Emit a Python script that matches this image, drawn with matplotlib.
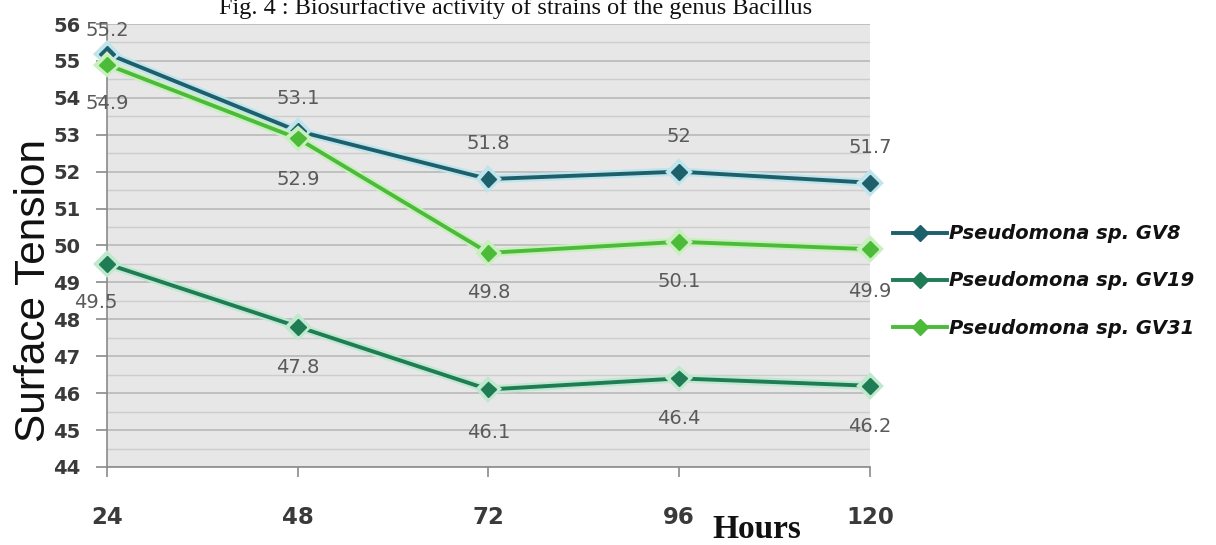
import matplotlib
matplotlib.use("Agg")
import matplotlib.pyplot as plt
import matplotlib.patheffects as pe
from matplotlib.ticker import MultipleLocator

# Sampling times (hours) and surface tension readings per strain
hours = [24, 48, 72, 96, 120]
hour_labels = ["24", "48", "72", "96", "120"]
gv8 = [55.2, 53.1, 51.8, 52.0, 51.7]
gv19 = [49.5, 47.8, 46.1, 46.4, 46.2]
gv31 = [54.9, 52.9, 49.8, 50.1, 49.9]
series_names = ["Pseudomona sp. GV8", "Pseudomona sp. GV19", "Pseudomona sp. GV31"]
y_ticks = list(range(44, 57))

W, H = 1216, 545
fig = plt.figure(figsize=(W / 100, H / 100), dpi=100)
ax_w_px, ax_h_px = 870 - 107, 467 - 24
ax = fig.add_axes([107 / W, 1 - 467 / H, ax_w_px / W, ax_h_px / H])

ax.set_facecolor("#e7e7e7")
ax.set_xlim(hours[0], hours[-1])
ax.set_ylim(44, 56)

# horizontal grid at every half unit
ax.yaxis.set_major_locator(MultipleLocator(1))
ax.yaxis.set_minor_locator(MultipleLocator(0.5))
ax.grid(axis="y", which="major", color="#bcbcbc", linewidth=1.3)
ax.grid(axis="y", which="minor", color="#cdcdcd", linewidth=1.0)
ax.set_axisbelow(True)

for s in ["top", "right"]:
    ax.spines[s].set_visible(False)
for s in ["left", "bottom"]:
    ax.spines[s].set_color("#8a8a8a")
    ax.spines[s].set_linewidth(1.2)

ax.set_xticks(hours)
ax.set_xticklabels(hour_labels)
ax.set_yticks(y_ticks)
ax.set_yticklabels([str(v) for v in y_ticks])
ax.tick_params(axis="y", which="major", length=8, width=1.2, color="#8a8a8a",
               pad=11, labelsize=14, labelcolor="#3a3a3a")
ax.tick_params(axis="y", which="minor", length=0)
ax.tick_params(axis="x", length=7, width=1.2, color="#8a8a8a", pad=21,
               labelsize=16.5, labelcolor="#3a3a3a")
for lab in ax.get_xticklabels() + ax.get_yticklabels():
    lab.set_fontweight("bold")
    lab.set_family("DejaVu Sans")

c_gv8, c_gv19, c_gv31 = "#1e5f6c", "#1f7c55", "#4cbb3a"
halo = {c_gv8: "#bfe4ec", c_gv19: "#bfe8cf", c_gv31: "#c9efbf"}

# lines with diamond markers
for vals, col, name in [(gv8, c_gv8, series_names[0]),
                        (gv19, c_gv19, series_names[1]),
                        (gv31, c_gv31, series_names[2])]:
    ax.plot(hours, vals, color=col, linewidth=2.8, marker="D", markersize=8,
            markerfacecolor=col, markeredgecolor=col, label=name, zorder=3,
            path_effects=[pe.Stroke(linewidth=6, foreground=halo[col]), pe.Normal()],
            clip_on=False)

# value labels (pixel offsets from each point)
label_style = dict(textcoords="offset pixels", ha="center", va="center",
                   fontsize=14, color="#5a5a5a", family="DejaVu Sans", zorder=4)
gv8_off = [(0, 23), (0, 33), (0, 36), (0, 35), (0, 35)]
gv31_off = [(0, -39), (0, -41), (0, -40), (0, -40), (0, -42)]
gv19_off = [(-11, -39), (0, -41), (0, -43), (0, -40), (0, -41)]
for vals, offs in [(gv8, gv8_off), (gv31, gv31_off), (gv19, gv19_off)]:
    for x, v, o in zip(hours, vals, offs):
        ax.annotate(f"{v:g}", (x, v), xytext=o, annotation_clip=False, **label_style)

ax.set_ylabel("Surface Tension", family="Liberation Sans", fontsize=30.5,
              color="#111111", labelpad=0)
ax.yaxis.set_label_coords(-53 / ax_w_px, 1 - (290 - 24) / ax_h_px)

fig.text(757 / W, 1 - 530 / H, "Hours", family="Liberation Serif", fontsize=24,
         fontweight="bold", ha="center", va="center", color="#111111")

fig.text(516 / W, 1 - 14 / H,
         "Fig. 4 : Biosurfactive activity of strains of the genus Bacillus",
         family="Liberation Serif", fontsize=17.5, ha="center", va="baseline",
         color="#111111")

leg = fig.legend(loc="center left", bbox_to_anchor=(883 / W, 1 - 281 / H),
                 frameon=False, borderpad=0, handlelength=2.8, handletextpad=0.1,
                 labelspacing=1.45, prop={"family": "DejaVu Sans", "style": "italic",
                                          "weight": "bold", "size": 14})
for h in leg.legend_handles:
    h.set_path_effects([])
for t in leg.get_texts():
    t.set_color("#111111")

fig.savefig("out.png", dpi=100)
